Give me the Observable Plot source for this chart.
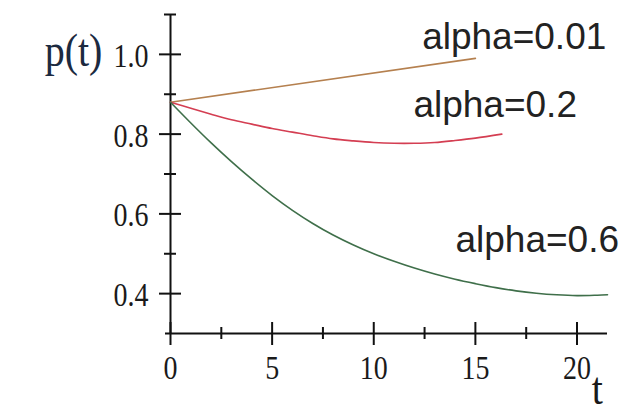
<!DOCTYPE html>
<html><head><meta charset="utf-8">
<script src="https://cdn.jsdelivr.net/npm/d3@7"></script>
<script src="https://cdn.jsdelivr.net/npm/@observablehq/plot@0.6"></script>
<style>body{margin:0;background:#fff}</style>
</head><body><div id="chart"></div>
<script>
// alpha = 0.01
const tA = [0, 15];
const pA = [0.88, 0.99];
// alpha = 0.2
const tB = [0, 1, 2, 3, 4, 5, 6, 7, 8, 9, 10, 11, 12, 13, 14, 15, 16.3];
const pB = [0.880, 0.865, 0.850, 0.836, 0.825, 0.814, 0.805, 0.796, 0.788, 0.783, 0.779, 0.777, 0.777, 0.779, 0.784, 0.790, 0.800];
// alpha = 0.6
const tC = [0, 1, 2, 3, 4, 5, 6, 7, 8, 9, 10, 11, 12, 13, 14, 15, 16, 17, 18, 19, 20, 21, 21.5];
const pC = [0.880, 0.828, 0.778, 0.731, 0.687, 0.646, 0.609, 0.576, 0.547, 0.522, 0.500, 0.481, 0.464, 0.449, 0.436, 0.425, 0.415, 0.407, 0.401, 0.397, 0.395, 0.396, 0.397];

const seriesNames = ["alpha=0.01", "alpha=0.2", "alpha=0.6"];
const labelT = [12.38, 11.95, 14.02];
const labelP = [1.0147, 0.8424, 0.5039];

const xMajor = [0, 5, 10, 15, 20];
const xMinor = [2.5, 7.5, 12.5, 17.5];
const yMajor = [0.4, 0.6, 0.8, 1.0];
const yMinor = [0.5, 0.7, 0.9, 1.1];
const yTickLabels = ["0.4", "0.6", "0.8", "1.0"];
const xTickLabels = ["0", "5", "10", "15", "20"];

const xDomain = [0, 21.5];
const yDomain = [0.3, 1.1];

const mk = (ts, ps) => ts.map((t, i) => ({t, p: ps[i]}));
const lineA = mk(tA, pA), lineB = mk(tB, pB), lineC = mk(tC, pC);
const labels = seriesNames.map((s, i) => ({s, t: labelT[i], p: labelP[i]}));

const W = 626, H = 414, mL = 170, mR = 19, mT = 14, mB = 81;
const kx = (W - mL - mR) / (xDomain[1] - xDomain[0]);
const ky = (H - mT - mB) / (yDomain[1] - yDomain[0]);
const px2x = v => v / kx, px2y = v => v / ky;

const serif = "'Liberation Serif', 'Times New Roman', serif";

const plot = Plot.plot({
  width: W, height: H,
  marginLeft: mL, marginRight: mR, marginTop: mT, marginBottom: mB,
  x: {domain: xDomain, axis: null},
  y: {domain: yDomain, axis: null},
  style: {background: "#fff", overflow: "visible"},
  marks: [
    // axes lines
    Plot.ruleY([yDomain[0]], {x1: xDomain[0] - px2x(5), x2: xDomain[1], stroke: "#111", strokeWidth: 2}),
    Plot.ruleX([xDomain[0]], {y1: yDomain[0], y2: yDomain[1], stroke: "#111", strokeWidth: 2}),
    // x ticks
    Plot.ruleX(xMajor, {y1: yDomain[0] - px2y(12), y2: yDomain[0] + px2y(11), stroke: "#111", strokeWidth: 2}),
    Plot.ruleX(xMinor, {y1: yDomain[0] - px2y(6), y2: yDomain[0] + px2y(6), stroke: "#111", strokeWidth: 2}),
    // y ticks
    Plot.ruleY(yMajor, {x1: xDomain[0] - px2x(11), x2: xDomain[0] + px2x(11), stroke: "#111", strokeWidth: 2}),
    Plot.ruleY(yMinor, {x1: xDomain[0] - px2x(6), x2: xDomain[0] + px2x(6), stroke: "#111", strokeWidth: 2}),
    // tick labels
    Plot.text(yMajor, {x: () => 0, y: d => d, text: (d, i) => yTickLabels[i], dx: -22, dy: 2, textAnchor: "end", fontFamily: serif, fontSize: 28, fill: "#1a1a1a", className: "stretch"}),
    Plot.text(xMajor, {x: d => d, y: () => yDomain[0], text: (d, i) => xTickLabels[i], dy: 35, textAnchor: "middle", fontFamily: serif, fontSize: 28, fill: "#1a1a1a", className: "stretch"}),
    // axis titles
    Plot.text(["p(t)"], {x: () => -4.77, y: () => 1.0097, text: d => d, fontFamily: serif, fontSize: 40, fill: "#1c2a40", className: "stretch"}),
    Plot.text(["t"], {x: () => 21.0, y: () => 0.162, text: d => d, fontFamily: serif, fontSize: 40, fill: "#1a1a1a", className: "stretch"}),
    // curves
    Plot.line(lineA, {x: "t", y: "p", stroke: "#b5804f", strokeWidth: 1.6}),
    Plot.line(lineB, {x: "t", y: "p", stroke: "#d43e52", strokeWidth: 1.6, curve: "catmull-rom"}),
    Plot.line(lineC, {x: "t", y: "p", stroke: "#3f6f4a", strokeWidth: 1.6, curve: "catmull-rom"}),
    // series labels
    Plot.text(labels, {x: "t", y: "p", text: "s", textAnchor: "start", lineAnchor: "bottom", fontFamily: "'Liberation Sans', Arial, sans-serif", fontSize: 37, fill: "#222"})
  ]
});
document.getElementById("chart").appendChild(plot);
// vertical stretch of serif labels
d3.select(plot).selectAll(".stretch text").each(function() {
  const t = d3.select(this).attr("transform") || "";
  d3.select(this).attr("transform", t + " scale(1,1.18)");
});
</script>
</body></html>
